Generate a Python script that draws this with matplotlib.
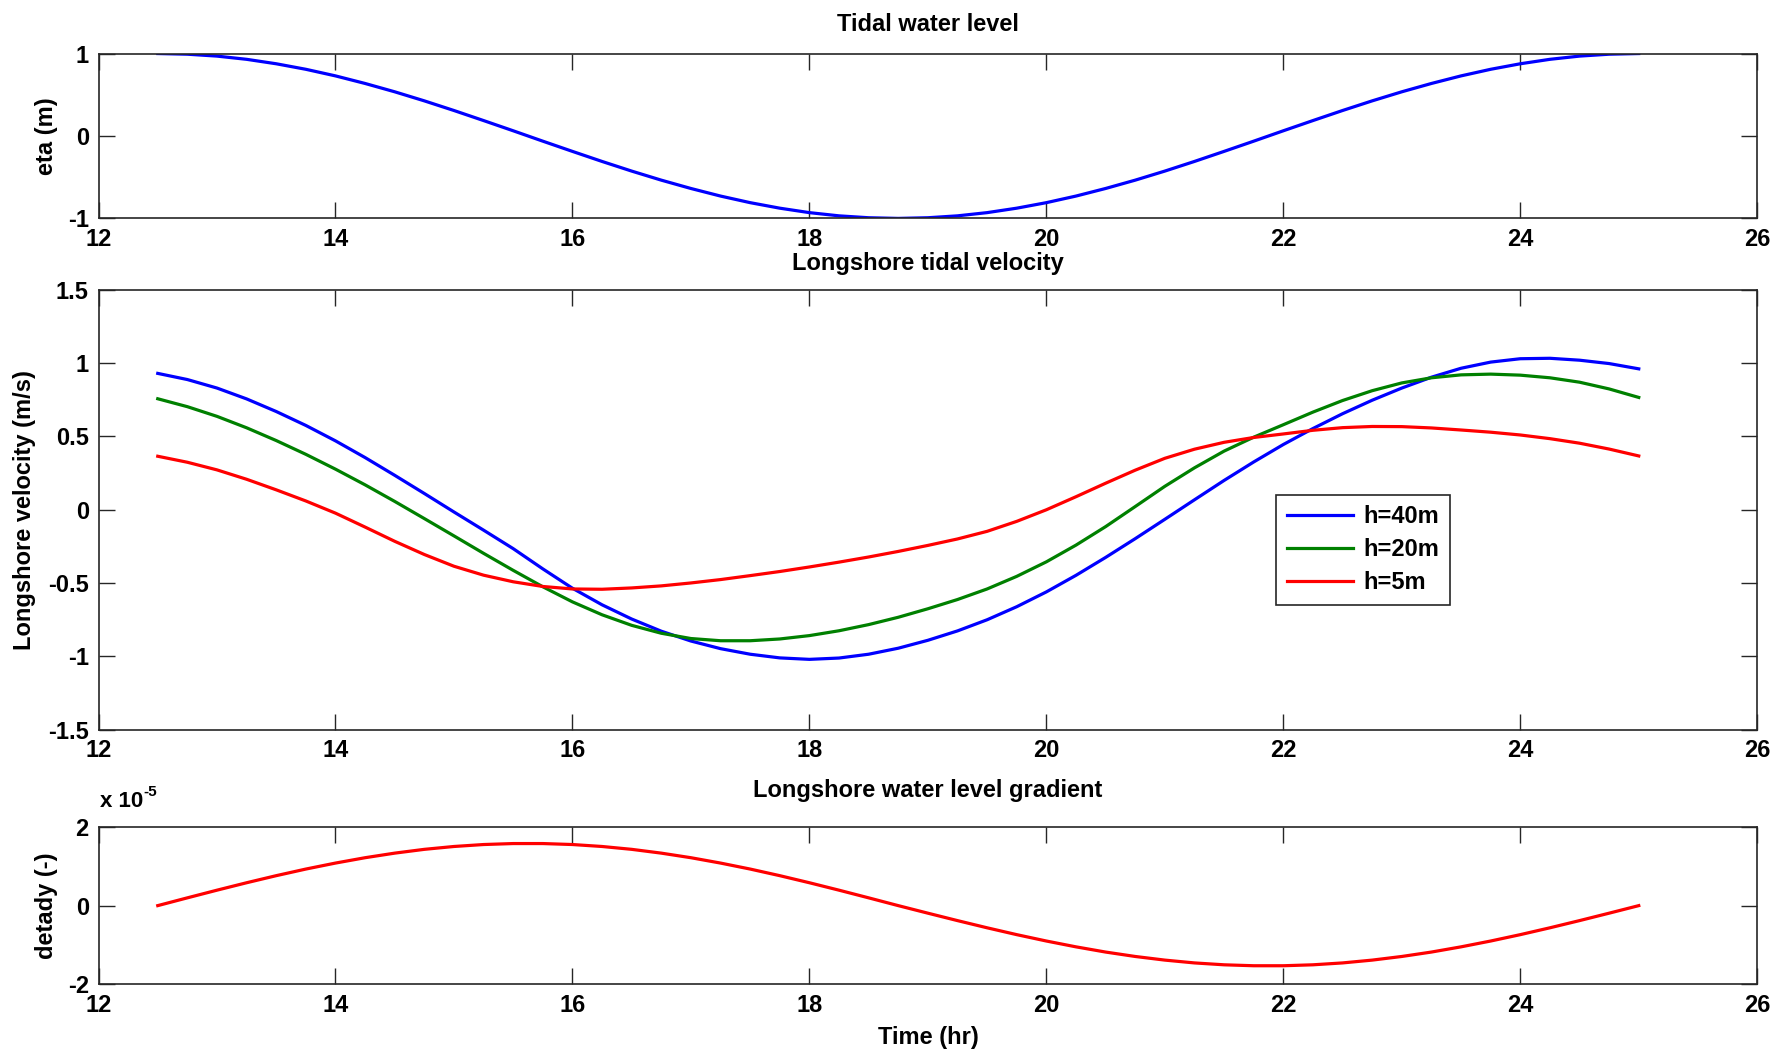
import numpy as np
import matplotlib
matplotlib.use("Agg")
import matplotlib.pyplot as plt

plt.rcParams['font.family'] = ['Liberation Sans', 'DejaVu Sans']
plt.rcParams['font.weight'] = 'bold'
plt.rcParams['axes.labelweight'] = 'bold'
plt.rcParams['axes.titleweight'] = 'bold'
plt.rcParams['axes.unicode_minus'] = False

# ---- data ----
time_hr = [12.5, 12.75, 13.0, 13.25, 13.5, 13.75, 14.0, 14.25, 14.5, 14.75, 15.0, 15.25, 15.5, 15.75,
           16.0, 16.25, 16.5, 16.75, 17.0, 17.25, 17.5, 17.75, 18.0, 18.25, 18.5, 18.75, 19.0, 19.25,
           19.5, 19.75, 20.0, 20.25, 20.5, 20.75, 21.0, 21.25, 21.5, 21.75, 22.0, 22.25, 22.5, 22.75,
           23.0, 23.25, 23.5, 23.75, 24.0, 24.25, 24.5, 24.75, 25.0]

eta_m = [1.000, 0.992, 0.969, 0.930, 0.876, 0.809, 0.729, 0.637, 0.536, 0.426, 0.309, 0.187, 0.063,
         -0.063, -0.187, -0.309, -0.426, -0.536, -0.637, -0.729, -0.809, -0.876, -0.930, -0.969, -0.992,
         -1.000, -0.992, -0.969, -0.930, -0.876, -0.809, -0.729, -0.637, -0.536, -0.426, -0.309, -0.187,
         -0.063, 0.063, 0.187, 0.309, 0.426, 0.536, 0.637, 0.729, 0.809, 0.876, 0.930, 0.969, 0.992, 1.000]

vel_h40 = [0.930, 0.888, 0.830, 0.756, 0.670, 0.575, 0.470, 0.356, 0.235, 0.111, -0.015, -0.139, -0.265,
           -0.403, -0.535, -0.648, -0.745, -0.828, -0.895, -0.947, -0.985, -1.010, -1.020, -1.011, -0.985,
           -0.944, -0.890, -0.826, -0.750, -0.661, -0.560, -0.447, -0.325, -0.197, -0.065, 0.068, 0.200,
           0.326, 0.445, 0.554, 0.655, 0.747, 0.830, 0.904, 0.965, 1.007, 1.030, 1.033, 1.020, 0.997, 0.961]

vel_h20 = [0.757, 0.703, 0.637, 0.559, 0.472, 0.378, 0.277, 0.170, 0.057, -0.060, -0.178, -0.297, -0.413,
           -0.525, -0.628, -0.716, -0.788, -0.842, -0.878, -0.893, -0.893, -0.881, -0.858, -0.825, -0.783,
           -0.733, -0.675, -0.612, -0.540, -0.454, -0.355, -0.241, -0.115, 0.022, 0.160, 0.286, 0.400,
           0.495, 0.580, 0.666, 0.745, 0.812, 0.865, 0.900, 0.920, 0.925, 0.918, 0.900, 0.870, 0.824, 0.766]

vel_h5 = [0.365, 0.324, 0.272, 0.208, 0.136, 0.060, -0.023, -0.118, -0.215, -0.305, -0.385, -0.446, -0.491,
          -0.523, -0.540, -0.542, -0.533, -0.519, -0.499, -0.476, -0.449, -0.421, -0.390, -0.357, -0.322,
          -0.284, -0.243, -0.199, -0.147, -0.079, 0.000, 0.089, 0.181, 0.270, 0.351, 0.413, 0.460,
          0.493, 0.517, 0.542, 0.560, 0.568, 0.567, 0.558, 0.544, 0.529, 0.510, 0.485, 0.454, 0.414, 0.367]

# detady in units of 1e-5
detady_scale = 1e-5
detady_e5 = [0.0, 0.199, 0.395, 0.585, 0.766, 0.935, 1.088, 1.225, 1.342, 1.439, 1.512, 1.562, 1.587,
             1.587, 1.562, 1.512, 1.439, 1.342, 1.225, 1.088, 0.935, 0.766, 0.585, 0.395, 0.199, 0.0,
             -0.193, -0.383, -0.567, -0.742, -0.905, -1.054, -1.187, -1.300, -1.393, -1.465, -1.513,
             -1.537, -1.537, -1.513, -1.465, -1.393, -1.300, -1.187, -1.054, -0.905, -0.742, -0.567,
             -0.383, -0.193, 0.0]

legend_labels = ['h=40m', 'h=20m', 'h=5m']
x_ticks = [12, 14, 16, 18, 20, 22, 24, 26]

# ---- figure ----
FS = 17
fig = plt.figure(figsize=(17.75, 10.5), dpi=100)
ax1 = fig.add_axes([0.0555, 0.792, 0.9345, 0.157])
ax2 = fig.add_axes([0.0555, 0.305, 0.9345, 0.419])
ax3 = fig.add_axes([0.0555, 0.063, 0.9345, 0.149])

def style(ax):
    ax.set_xlim(12, 26)
    ax.set_xticks(x_ticks)
    ax.tick_params(direction='in', length=11.5, width=1.0, top=True, right=True,
                   labelsize=FS, pad=7, color='#262626')
    for s in ax.spines.values():
        s.set_linewidth(1.2)
        s.set_color('#262626')
    for lab in ax.get_xticklabels() + ax.get_yticklabels():
        lab.set_fontweight('bold')

LW = 2.3
# Top panel
ax1.plot(time_hr, eta_m, color=(0, 0, 1), lw=LW)
ax1.set_ylim(-1, 1)
ax1.set_yticks([-1, 0, 1])
ax1.set_title('Tidal water level', fontsize=FS, fontweight='bold', pad=16)
ax1.set_ylabel('eta (m)', fontsize=FS, fontweight='bold')
ax1.yaxis.set_label_coords(-0.0242, 0.5)
style(ax1)

# Middle panel
ax2.plot(time_hr, vel_h40, color=(0, 0, 1), lw=LW, label=legend_labels[0])
ax2.plot(time_hr, vel_h20, color=(0, 0.5, 0), lw=LW, label=legend_labels[1])
ax2.plot(time_hr, vel_h5, color=(1, 0, 0), lw=LW, label=legend_labels[2])
ax2.set_ylim(-1.5, 1.5)
ax2.set_yticks([-1.5, -1, -0.5, 0, 0.5, 1, 1.5])
ax2.set_yticklabels(['-1.5', '-1', '-0.5', '0', '0.5', '1', '1.5'])
ax2.set_title('Longshore tidal velocity', fontsize=FS, fontweight='bold', pad=14)
ax2.set_ylabel('Longshore velocity (m/s)', fontsize=FS, fontweight='bold')
ax2.yaxis.set_label_coords(-0.0379, 0.5)
style(ax2)
leg = ax2.legend(loc='upper left', bbox_to_anchor=(0.710, 0.534), fontsize=FS,
                 frameon=True, fancybox=False, edgecolor='#262626', framealpha=1,
                 handlelength=2.8, handletextpad=0.45, labelspacing=0.42, borderpad=0.45,
                 borderaxespad=0.0, prop={'weight': 'bold', 'size': FS})
leg.get_frame().set_linewidth(1.2)

# Bottom panel
ax3.plot(time_hr, np.array(detady_e5), color=(1, 0, 0), lw=LW)
ax3.set_ylim(-2, 2)
ax3.set_yticks([-2, 0, 2])
ax3.set_title('Longshore water level gradient', fontsize=FS, fontweight='bold', pad=22)
ax3.set_ylabel('detady (-)', fontsize=FS, fontweight='bold')
ax3.yaxis.set_label_coords(-0.0242, 0.5)
ax3.set_xlabel('Time (hr)', fontsize=FS, fontweight='bold')
ax3.xaxis.set_label_coords(0.5, -0.27)
style(ax3)
ax3.text(0.0008, 1.165, 'x 10', transform=ax3.transAxes, fontsize=FS - 1,
         fontweight='bold', ha='left', va='center')
ax3.text(0.0273, 1.225, '-5', transform=ax3.transAxes, fontsize=FS - 6,
         fontweight='bold', ha='left', va='center')

fig.savefig('out.png', dpi=100, facecolor='white')
